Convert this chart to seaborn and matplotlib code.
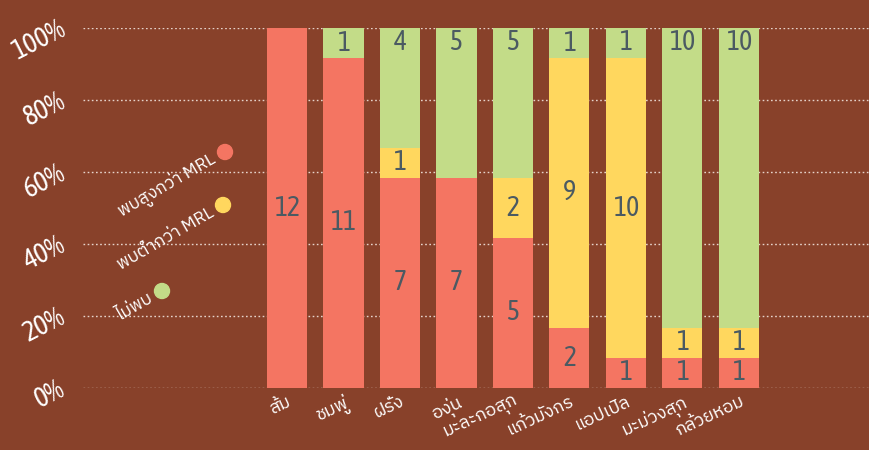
import matplotlib
matplotlib.use('Agg')
import matplotlib.pyplot as plt
import seaborn as sns
import numpy as np
from matplotlib import font_manager
from matplotlib.ft2font import FT2Font

# ---------------- data ----------------
categories = ['ส้ม', 'ชมพู่', 'ฝรั่ง', 'องุ่น', 'มะละกอสุก', 'แก้วมังกร', 'แอปเปิล', 'มะม่วงสุก', 'กล้วยหอม']
above_mrl = [12, 11, 7, 7, 5, 2, 1, 1, 1]
below_mrl = [0, 0, 1, 0, 2, 9, 10, 1, 1]
not_found = [0, 1, 4, 5, 5, 1, 1, 10, 10]
series_names = ['พบสูงกว่า MRL', 'พบต่ำกว่า MRL', 'ไม่พบ']
y_ticks = [0, 20, 40, 60, 80, 100]
y_tick_labels = ['0%', '20%', '40%', '60%', '80%', '100%']

# ---------------- styles ----------------
BG = '#88412A'
RED = '#F47562'
YEL = '#FFD75E'
GRN = '#C3DC88'
NUM = '#4B5A62'
WHITE = '#FFFFFF'


def find_font(sample, prefer=()):
    cands = []
    for f in font_manager.fontManager.ttflist:
        try:
            cm = FT2Font(f.fname).get_charmap()
        except Exception:
            continue
        if all(ord(c) in cm for c in sample):
            cands.append(f.name)
    for p in prefer:
        for c in cands:
            if p.lower() in c.lower():
                return c
    return cands[0] if cands else 'DejaVu Sans'


sns.set_theme(style='white')
thai_font = find_font('สมชพู่ฝรั่งต่ำ', prefer=('Thai', 'Noto', 'Loma', 'Garuda', 'Kinnari', 'Sarabun'))
num_font = find_font('0123456789%', prefer=('Liberation Sans Narrow', 'Condensed', 'Narrow', 'Roboto', 'Open Sans'))
plt.rcParams['font.family'] = [thai_font, 'DejaVu Sans']

fig = plt.figure(figsize=(8.7, 4.5), dpi=100, facecolor=BG)
ax = fig.add_axes([83 / 870, 1 - 388 / 450, 1 - 83 / 870, 360 / 450])
ax.set_facecolor(BG)

a = np.array(above_mrl, dtype=float)
b = np.array(below_mrl, dtype=float)
g = np.array(not_found, dtype=float)
tot = a + b + g
pa = a / tot * 100
pb = b / tot * 100
pg = g / tot * 100

bw = 0.71
kw = dict(saturation=1, width=bw, ax=ax, order=categories, linewidth=0, edgecolor='none')
sns.barplot(x=categories, y=pa + pb + pg, color=GRN, zorder=2, **kw)
sns.barplot(x=categories, y=pa + pb, color=YEL, zorder=3, **kw)
sns.barplot(x=categories, y=pa, color=RED, zorder=4, **kw)

unit = 100 / 12
for i in range(len(categories)):
    segs = [(pa[i], 0, a[i], False), (pb[i], pa[i], b[i], False), (pg[i], pa[i] + pb[i], g[i], True)]
    for h, base, v, is_top in segs:
        if v <= 0:
            continue
        if is_top:
            yy = base + h - 0.5 * unit
        else:
            yy = base + h / 2
        ax.text(i, yy, f'{int(v)}', ha='center', va='center', color=NUM,
                fontsize=20, family=[num_font, 'DejaVu Sans'], zorder=6)

ax.set_xlim(-3.61, 10.32)
ax.set_ylim(0, 100)
ax.set_yticks(y_ticks)
ax.set_yticklabels(y_tick_labels, family=[num_font, 'DejaVu Sans'])
ax.yaxis.grid(True, linestyle=(0, (1.2, 1.8)), color='#E6D3CB', linewidth=1.0, zorder=0)
ax.set_axisbelow(True)
for s in ax.spines.values():
    s.set_visible(False)
ax.tick_params(axis='both', length=0)
ax.tick_params(axis='y', pad=14, labelsize=20, labelcolor=WHITE)
ax.tick_params(axis='x', pad=3, labelsize=13, labelcolor=WHITE)
for lab in ax.get_yticklabels():
    lab.set_rotation(27)
    lab.set_rotation_mode('anchor')
    lab.set_ha('right')
    lab.set_va('center')
for lab in ax.get_xticklabels():
    lab.set_rotation(25)
    lab.set_rotation_mode('anchor')
    lab.set_ha('right')
    lab.set_va('top')
ax.set_xlabel('')
ax.set_ylabel('')

# legend (rotated labels with dots)
leg_pos = [(225, 152), (223, 205), (162, 291)]
leg_cols = [RED, YEL, GRN]
for (px, py), col, name in zip(leg_pos, leg_cols, series_names):
    fx, fy = px / 870, 1 - py / 450
    fig.add_artist(matplotlib.patches.Ellipse((fx, fy), 15 / 870, 15 / 450, transform=fig.transFigure,
                                              color=col, zorder=10))
    ang = np.deg2rad(30)
    tx = px - 12 * np.cos(ang)
    ty = py + 12 * np.sin(ang)
    fig.text(tx / 870, 1 - ty / 450, name, rotation=30, rotation_mode='anchor', ha='right', va='center',
             color=WHITE, fontsize=12.5)

fig.savefig('out.png', dpi=100, facecolor=BG)
